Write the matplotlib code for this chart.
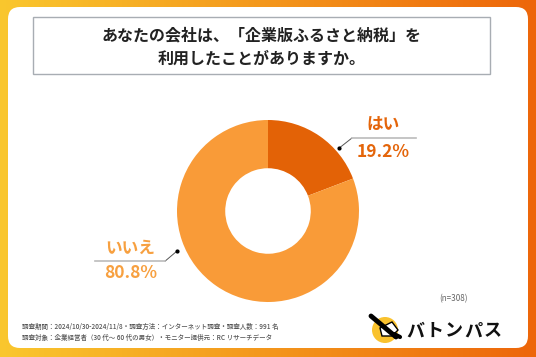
import matplotlib.pyplot as plt
from matplotlib.patches import FancyBboxPatch, Rectangle, Circle, Polygon
import numpy as np

plt.rcParams['font.family'] = ['Noto Sans CJK JP', 'DejaVu Sans']

title = 'あなたの会社は、「企業版ふるさと納税」を\n利用したことがありますか。'
labels = ['はい', 'いいえ']
values = [19.2, 80.8]
colors = ['#E36206', '#F99B38']
text_colors = ['#E4650A', '#F7A040']
n_text = '(n=308)'
notes = ['調査期間：2024/10/30-2024/11/8・調査方法：インターネット調査・調査人数：991 名',
         '調査対象：企業経営者（30 代～ 60 代の男女）・モニター提供元：RC リサーチデータ']
logo_text = 'バトンパス'

W, H = 536, 357
fig = plt.figure(figsize=(W/100, H/100), dpi=100)

# gradient background
bg = fig.add_axes([0, 0, 1, 1])
grad = np.linspace(0, 1, 256)
c0 = np.array([0.98, 0.78, 0.18])
c1 = np.array([0.93, 0.40, 0.04])
img = (c0[None, :] * (1 - grad[:, None]) + c1[None, :] * grad[:, None])[None, :, :]
bg.imshow(img, aspect='auto', extent=[0, W, 0, H])
bg.set_xlim(0, W)
bg.set_ylim(H, 0)
bg.axis('off')

bg.add_patch(FancyBboxPatch((8, 7), W - 16, H - 16, boxstyle='round,pad=0,rounding_size=12',
                            fc='white', ec='none'))
bg.add_patch(Rectangle((33, 17), 457, 57, fc='white', ec='#A8ADB3', lw=1))
bg.text(262, 47, title, ha='center', va='center', fontsize=11.5, fontweight='bold',
        color='#222222', linespacing=1.5)

bg.text(454, 299, n_text, ha='center', va='center', fontsize=5.8, color='#666666')
for i, t in enumerate(notes):
    bg.text(22, 327 + i * 11, t, ha='left', va='center', fontsize=4.7, color='#555555',
            fontweight='medium')

# logo
bg.add_patch(Circle((385, 330), 13, fc='#F9C22E', ec='none'))
bg.plot([371, 396], [316, 337], color='black', lw=3.5, solid_capstyle='round')
bg.add_patch(Polygon([(380, 328), (392, 322), (398, 330), (392, 336), (382, 336)],
                     closed=True, fc='white', ec='black', lw=1))
bg.plot([394, 400], [334, 337], color='black', lw=3, solid_capstyle='round')
for i, ch in enumerate(logo_text):
    bg.text(415 + i * 19.3, 331, ch, ha='center', va='center', fontsize=13,
            fontweight='bold', color='#111111')

# donut
cx, cy, r = 268, 211, 91
ax = fig.add_axes([(cx - r) / W, 1 - (cy + r) / H, 2 * r / W, 2 * r / H])
ax.pie(values, colors=colors, startangle=90, counterclock=False,
       wedgeprops=dict(width=0.53, edgecolor='none'))
ax.set_xlim(-1, 1)
ax.set_ylim(-1, 1)
ax.set_aspect('auto')

# label leaders
lines = [((0.78, 0.69), (0.92, 0.80), (1.63, 0.80)),
         ((-1.00, -0.44), (-1.13, -0.55), (-1.90, -0.55))]
name_pos = [(1.27, 0.95), (-1.52, -0.40)]
pct_pos = [(1.27, 0.65), (-1.51, -0.68)]
for i in range(2):
    p0, p1, p2 = lines[i]
    ax.plot([p0[0], p1[0]], [p0[1], p1[1]], color='#555555', lw=0.7, clip_on=False)
    ax.plot([p1[0], p2[0]], [p1[1], p2[1]], color='#BBBBBB', lw=1.2, clip_on=False)
    ax.plot(p0[0], p0[1], 'o', color='black', ms=2, clip_on=False)
    ax.text(*name_pos[i], labels[i], ha='center', va='center', fontsize=12,
            fontweight='bold', color=text_colors[i])
    ax.text(*pct_pos[i], f'{values[i]}%', ha='center', va='center', fontsize=12.5,
            fontweight='bold', color=text_colors[i])

fig.savefig('out.png', dpi=100)
